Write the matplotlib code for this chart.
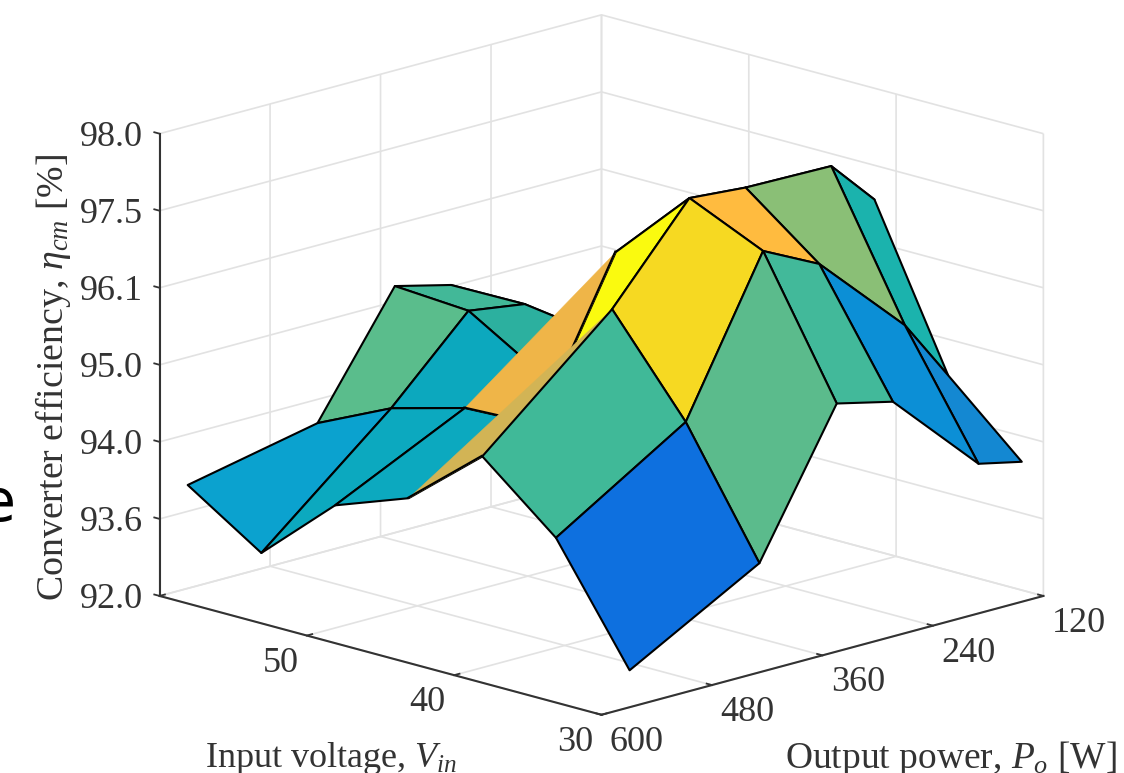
import numpy as np
import matplotlib
matplotlib.use("Agg")
import matplotlib.pyplot as plt
from matplotlib.transforms import Affine2D
from mpl_toolkits.mplot3d.art3d import Poly3DCollection

plt.rcParams['font.family'] = ['Liberation Serif', 'DejaVu Serif']
plt.rcParams['mathtext.fontset'] = 'custom'
plt.rcParams['mathtext.rm'] = 'Liberation Serif'
plt.rcParams['mathtext.it'] = 'Liberation Serif:italic'
plt.rcParams['grid.color'] = '#e2e2e2'
plt.rcParams['grid.linewidth'] = 1.2

vin = [30, 35, 40, 45, 50, 55, 60]
po = [570, 429, 345, 284, 191, 144]
eff_30 = [92.78, 93.77, 95.25, 95.06, 93.98, 93.93]
eff_35 = [93.98, 95.00, 97.43, 96.92, 95.54, 94.69]
eff_40 = [94.75, 96.39, 97.69, 97.66, 97.65, 97.10]
eff_45 = [93.98, 94.45, 96.69, 96.52, 96.10, 95.55]
eff_50 = [93.84, 94.41, 94.57, 94.90, 95.22, 94.80]
eff_55 = [93.16, 94.15, 95.16, 95.04, 94.00, 93.80]
eff_60 = [93.74, 93.88, 95.23, 95.03, 94.20, 93.96]

cell_colors_30 = ['#0E70DF', '#5BBB8C', '#42B99A', '#0C8FD6', '#1488D2']
cell_colors_35 = ['#40B998', '#F6D922', '#FFBB3F', '#8ABF76', '#1BB3AD']
cell_colors_40 = ['#D2B455', '#FAFA0F', '#40B998', '#40B998', '#1BB3AD']
cell_colors_45 = ['#0CA9BF', '#EFB548', '#2CB09F', '#2CB09F', '#1BB3AD']
cell_colors_50 = ['#0CA9BF', '#0CA8BE', '#2CB09F', '#0CA1D0', '#0CA1D0']
cell_colors_55 = ['#0BA2CF', '#5ABD8C', '#42B898', '#0CA1D0', '#0CA1D0']

vin_ticks = [30, 40, 50, 60]
vin_labels = ['30', '40', '50', '']
po_ticks = [600, 480, 360, 240, 120]
po_labels = ['600', '480', '360', '240', '120']
eff_ticks = [92.0, 93.6, 94.0, 95.0, 96.1, 97.5, 98.0]
eff_labels = ['92.0', '93.6', '94.0', '95.0', '96.1', '97.5', '98.0']

EFF = np.array([eff_30, eff_35, eff_40, eff_45, eff_50, eff_55, eff_60])
COL = [cell_colors_30, cell_colors_35, cell_colors_40, cell_colors_45,
       cell_colors_50, cell_colors_55]
Z = np.interp(EFF, eff_ticks, np.arange(len(eff_ticks)))


def pt(a, b):
    return (vin[a], po[b], Z[a, b])


fig = plt.figure(figsize=(11.24, 7.73), dpi=100)
ax = fig.add_axes([24.3 / 1124, -169 / 773, 1.0, 1124 / 773], projection='3d',
                  proj_type='ortho', computed_zorder=False)
ax.view_init(elev=15.6, azim=135)
ax.set_box_aspect((1, 1, 0.768), zoom=0.8686)

ax.set_xlim(30, 60)
ax.set_ylim(120, 600)
ax.set_zlim(0, 6)

# cells painted from far to near; two cells are only half shown, as in the source
na, nb = len(vin) - 1, len(po) - 1
depth = lambda c: c[0] * 73.7 + (600 - po[c[1]] + 600 - po[c[1] + 1]) * 0.458
cells = sorted([(a, b) for a in range(na) for b in range(nb)], key=depth, reverse=True)
front = [c for c in cells if c[0] <= 1]
back = [c for c in cells if c[0] >= 2 and c not in [(2, 0), (2, 1), (3, 1)]]

z = 10


def add_face(verts, color, edge=True):
    global z
    p = Poly3DCollection([verts], facecolors=color,
                         edgecolors='black' if edge else color,
                         linewidths=1.5 if edge else 0.3)
    p.set_zorder(z)
    ax.add_collection3d(p, autolim=False)
    z += 1


def quad(a, b):
    return [pt(a, b), pt(a, b + 1), pt(a + 1, b + 1), pt(a + 1, b)]


for a, b in back:
    add_face(quad(a, b), COL[a][b])
add_face(quad(2, 1), COL[2][1])
add_face([pt(4, 1), pt(3, 2), pt(3, 1)], COL[3][1], edge=False)
for p0, p1 in [(pt(4, 1), pt(3, 1)), (pt(3, 1), pt(3, 2))]:
    ax.plot(*zip(p0, p1), color='black', lw=1.5, zorder=z)
    z += 1
add_face([pt(3, 0), pt(2, 1), pt(2, 0)], COL[2][0], edge=False)
ax.plot(*zip(pt(3, 0), pt(2, 0)), color='black', lw=1.5, zorder=z)
z += 1
for a, b in front:
    add_face(quad(a, b), COL[a][b])

ax.set_xticks(vin_ticks)
ax.set_xticklabels(vin_labels, fontsize=26, ha='right', va='top')
ax.set_yticks(po_ticks)
ax.set_yticklabels(po_labels, fontsize=26, ha='left', va='top')
ax.set_zticks(range(len(eff_ticks)))
ax.set_zticklabels(eff_labels, fontsize=26, ha='right', va='center_baseline')
ax.tick_params(colors='#333333', pad=0)

ax.xaxis.set_rotate_label(False)
ax.yaxis.set_rotate_label(False)
ax.zaxis.set_rotate_label(False)
ax.set_xlabel(r'Input voltage, $V_{in}$', fontsize=26, labelpad=30, rotation=0, color='#333333')
ax.set_ylabel(r'Output power, $P_o$ [W]', fontsize=27, labelpad=30, rotation=0, color='#333333')
ax.set_zlabel(r'Converter efficiency, $\eta_{cm}$ [%]', fontsize=27.3, labelpad=30, rotation=90,
              color='#333333')


def nudge(label, dx, dy):
    # mplot3d resets a label's transform at each draw, so the shift goes in get_transform
    label.get_transform = lambda: ax.transData + Affine2D().translate(dx, dy)


nudge(ax.xaxis.label, 4, -33)
nudge(ax.yaxis.label, 75, -33)
nudge(ax.zaxis.label, 0, -13)

ax.zaxis._axinfo['juggled'] = (1, 2, 0)

for axis in (ax.xaxis, ax.yaxis, ax.zaxis):
    axis.set_pane_color((1, 1, 1, 0))
    axis.pane.set_edgecolor('#e2e2e2')
    axis.line.set_color('#333333')
    axis.line.set_linewidth(1.5)
    axis._axinfo['tick']['inward_factor'] = 0.0
    axis._axinfo['tick']['outward_factor'] = 0.15
    axis._axinfo['tick']['linewidth'] = {True: 1.3, False: 1.0}
    axis._axinfo['tick']['color'] = '#333333'

fig.text(-20 / 1124, 1 - 521 / 773, 'e', fontsize=42, family='DejaVu Sans', color='black',
         ha='left', va='baseline')

fig.savefig('out.png', dpi=100)
